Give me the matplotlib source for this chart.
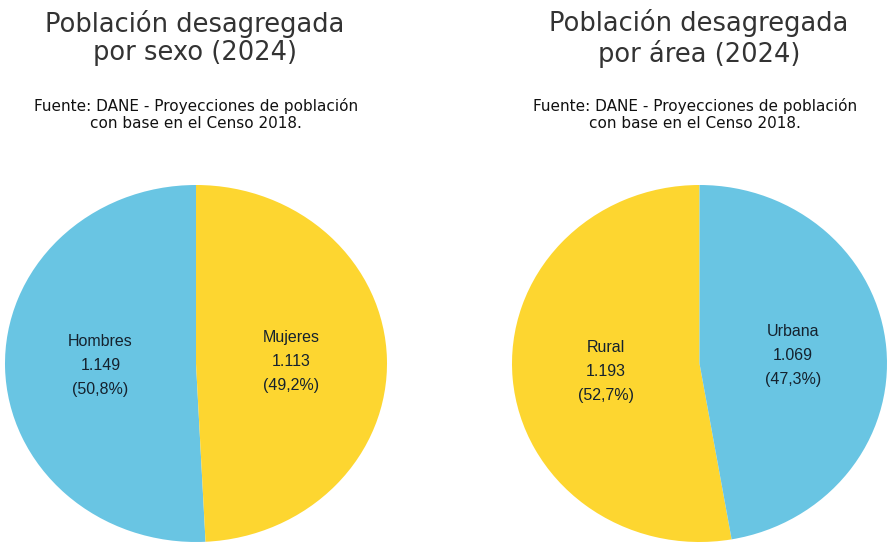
import matplotlib
matplotlib.use("Agg")
import matplotlib.pyplot as plt

# ---- data ----
sexo_labels = ["Hombres", "Mujeres"]
sexo_values = [1.149, 1.113]
sexo_pct = ["50,8%", "49,2%"]
sexo_text = ["1.149", "1.113"]

area_labels = ["Rural", "Urbana"]
area_values = [1.193, 1.069]
area_pct = ["52,7%", "47,3%"]
area_text = ["1.193", "1.069"]

titles = ["Población desagregada\npor sexo (2024)", "Población desagregada\npor área (2024)"]
source = "Fuente: DANE - Proyecciones de población\ncon base en el Censo 2018."

BLUE = "#69C5E3"
YELLOW = "#FDD630"

W, H = 888, 543
fig = plt.figure(figsize=(W / 100, H / 100), dpi=100)


def box(x0, x1, y0, y1):
    return [x0 / W, 1 - y1 / H, (x1 - x0) / W, (y1 - y0) / H]


def draw(ax, labels, values, texts, pcts, colors):
    lbls = [f"{l}\n{t}\n({p})" for l, t, p in zip(labels, texts, pcts)]
    wedges, ts = ax.pie(values, labels=lbls, colors=colors, startangle=90,
                        counterclock=True, labeldistance=0.5,
                        textprops=dict(ha="center", va="center", fontsize=11.5,
                                       color="#15222E", family="Liberation Sans",
                                       linespacing=1.75))
    ax.set_aspect("auto")
    ax.set_xlim(-1, 1)
    ax.set_ylim(-1, 1)
    ax.axis("off")


ax1 = fig.add_axes(box(5, 387, 185, 542))
draw(ax1, sexo_labels, sexo_values, sexo_text, sexo_pct, [BLUE, YELLOW])
ax2 = fig.add_axes(box(512, 887, 185, 542))
draw(ax2, area_labels, area_values, area_text, area_pct, [YELLOW, BLUE])

for cx, sx, t in [(195, 196, titles[0]), (699, 695, titles[1])]:
    fig.text(cx / W, 1 - 38.5 / H, t, ha="center", va="center", fontsize=18.5,
             color="#333333", family="DejaVu Sans", linespacing=1.1)
    fig.text(sx / W, 1 - 114.5 / H, source, ha="center", va="center", fontsize=11,
             color="#111111", family="DejaVu Sans", linespacing=1.25)

fig.savefig("out.png", dpi=100)
